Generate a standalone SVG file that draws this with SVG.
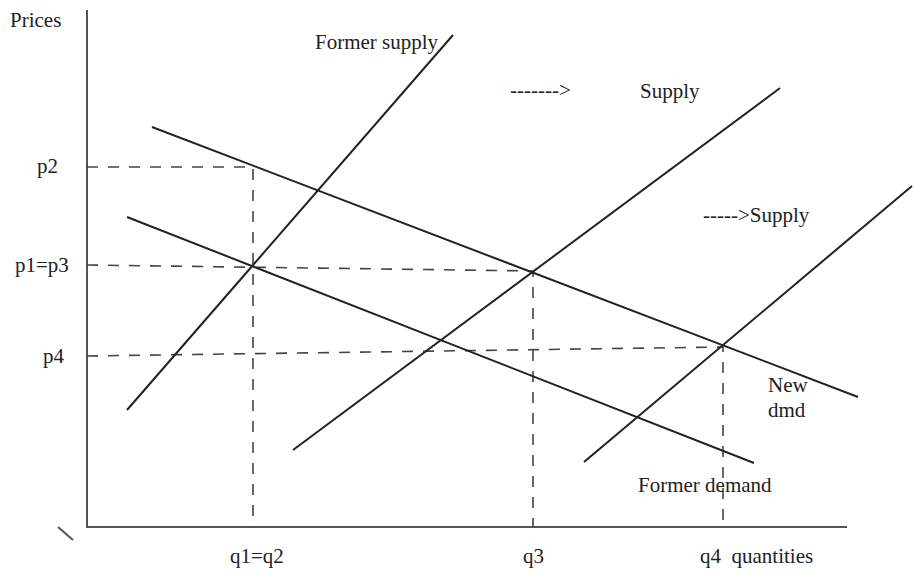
<svg xmlns="http://www.w3.org/2000/svg" width="914" height="577" viewBox="0 0 914 577">
<style>
.ax{stroke:#555;stroke-width:2;fill:none}
.cv{stroke:#222;stroke-width:2;fill:none}
.dsh{stroke:#444;stroke-width:1.6;fill:none;stroke-dasharray:11 10}
text{font-family:"Liberation Serif","Times New Roman",serif;font-size:21px;fill:#222}
</style>
<rect width="914" height="577" fill="#fff"/>
<g id="axes">
<line class="ax" x1="87" y1="10" x2="87" y2="527"/>
<line class="ax" x1="86" y1="527" x2="847" y2="527"/>
<line class="ax" x1="58" y1="527" x2="73" y2="540"/>
</g>
<g id="connectors">
<polyline class="dsh" points="87,167 253,167 253,527"/>
<polyline class="dsh" points="87,265 533,271 533,527"/>
<polyline class="dsh" points="87,356 723,347 723,527"/>
</g>
<g id="former-supply"><line class="cv" x1="127" y1="410" x2="453" y2="35"/></g>
<g id="supply"><line class="cv" x1="293" y1="450" x2="780" y2="88"/></g>
<g id="supply-2"><line class="cv" x1="584" y1="462" x2="912" y2="186"/></g>
<g id="new-demand"><line class="cv" x1="152" y1="127" x2="858" y2="397"/></g>
<g id="former-demand"><line class="cv" x1="127" y1="217" x2="754" y2="463"/></g>
<g id="labels">
<text x="10" y="27">Prices</text>
<text x="37" y="173">p2</text>
<text x="15" y="272">p1=p3</text>
<text x="43" y="363">p4</text>
<text x="230" y="563">q1=q2</text>
<text x="523" y="563">q3</text>
<text x="700" y="563" xml:space="preserve">q4  quantities</text>
<text x="315" y="49">Former supply</text>
<text x="510" y="97">-------&gt;</text>
<text x="640" y="98">Supply</text>
<text x="703" y="222">-----&gt;Supply</text>
<text x="768" y="392">New</text>
<text x="768" y="417">dmd</text>
<text x="638" y="492">Former demand</text>
</g>
</svg>
